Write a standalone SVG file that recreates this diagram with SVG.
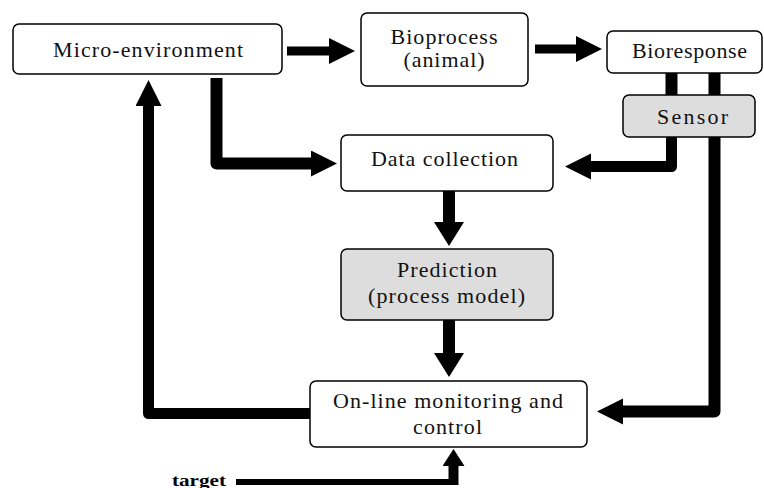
<svg xmlns="http://www.w3.org/2000/svg" width="764" height="488" viewBox="0 0 764 488">
<style>
.box{fill:#fff;stroke:#000;stroke-width:1.5}
.gray{fill:#dddddd}
.t{font-family:"Liberation Serif","Times New Roman",serif;font-size:22px;fill:#111;text-anchor:middle}
.c{fill:none;stroke:#000;stroke-linejoin:round}
</style>
<defs>
<marker id="ah" markerUnits="userSpaceOnUse" markerWidth="30" markerHeight="30" refX="1" refY="13" orient="auto"><path d="M0,0 L26,13 L0,26 z" fill="#000"/></marker>
<marker id="ahw" markerUnits="userSpaceOnUse" markerWidth="30" markerHeight="32" refX="1" refY="15" orient="auto"><path d="M0,0 L24,15 L0,30 z" fill="#000"/></marker>
<marker id="ahs" markerUnits="userSpaceOnUse" markerWidth="20" markerHeight="24" refX="1" refY="11" orient="auto"><path d="M0,0 L17,11 L0,22 z" fill="#000"/></marker>
</defs>
<g id="connectors">
<path class="c" style="stroke-width:9" d="M287,51 L330,51" marker-end="url(#ah)"/>
<path class="c" style="stroke-width:9" d="M535,49 L577,49" marker-end="url(#ah)"/>
<path class="c" style="stroke-width:12" d="M216.5,78 L216.5,163.5 L312,163.5" marker-end="url(#ah)"/>
<path class="c" style="stroke-width:11" d="M310,413.5 L148.5,413.5 L148.5,105" marker-end="url(#ah)"/>
<path class="c" style="stroke-width:12" d="M671.5,73 L671.5,96"/>
<path class="c" style="stroke-width:11" d="M671.5,136 L671.5,166.5 L590,166.5" marker-end="url(#ah)"/>
<path class="c" style="stroke-width:12" d="M714.5,73 L714.5,411.5 L622,411.5" marker-end="url(#ah)"/>
<path class="c" style="stroke-width:12" d="M449,191 L449,223" marker-end="url(#ahw)"/>
<path class="c" style="stroke-width:12" d="M449,320 L449,354" marker-end="url(#ahw)"/>
<path class="c" style="stroke-width:6" d="M236,482 L453.5,482"/>
<path class="c" style="stroke-width:10" d="M453.5,485 L453.5,465" marker-end="url(#ahs)"/>
</g>
<g id="micro-environment">
<rect class="box" x="13" y="24" width="269" height="50" rx="6"/>
<text class="t" x="148" y="57" textLength="190" lengthAdjust="spacing">Micro-environment</text>
</g>
<g id="bioprocess">
<rect class="box" x="361" y="13" width="167" height="73" rx="6"/>
<text class="t" x="444" y="44" textLength="107" lengthAdjust="spacing">Bioprocess</text>
<text class="t" x="444" y="67" textLength="81" lengthAdjust="spacing">(animal)</text>
</g>
<g id="bioresponse">
<rect class="box" x="607" y="31" width="155" height="42" rx="6"/>
<text class="t" x="689.5" y="58" textLength="115" lengthAdjust="spacing">Bioresponse</text>
</g>
<g id="sensor">
<rect class="box gray" x="623" y="95" width="132" height="42" rx="6"/>
<text class="t" x="692.5" y="124" textLength="71" lengthAdjust="spacing">Sensor</text>
</g>
<g id="data-collection">
<rect class="box" x="341" y="135" width="212" height="56" rx="6"/>
<text class="t" x="444.5" y="166" textLength="147" lengthAdjust="spacing">Data collection</text>
</g>
<g id="prediction">
<rect class="box gray" x="341" y="249" width="212" height="71" rx="6"/>
<text class="t" x="447" y="277" textLength="100" lengthAdjust="spacing">Prediction</text>
<text class="t" x="446.5" y="303" textLength="157" lengthAdjust="spacing">(process model)</text>
</g>
<g id="online-monitoring">
<rect class="box" x="310" y="381" width="277" height="66" rx="6"/>
<text class="t" x="448" y="408" textLength="230" lengthAdjust="spacing">On-line monitoring and</text>
<text class="t" x="447.5" y="434" textLength="69" lengthAdjust="spacing">control</text>
</g>
<g id="target">
<text x="172" y="486" textLength="54" lengthAdjust="spacingAndGlyphs" style="font-family:'Liberation Serif',serif;font-size:16px;font-weight:bold;fill:#000">target</text>
</g>
</svg>
